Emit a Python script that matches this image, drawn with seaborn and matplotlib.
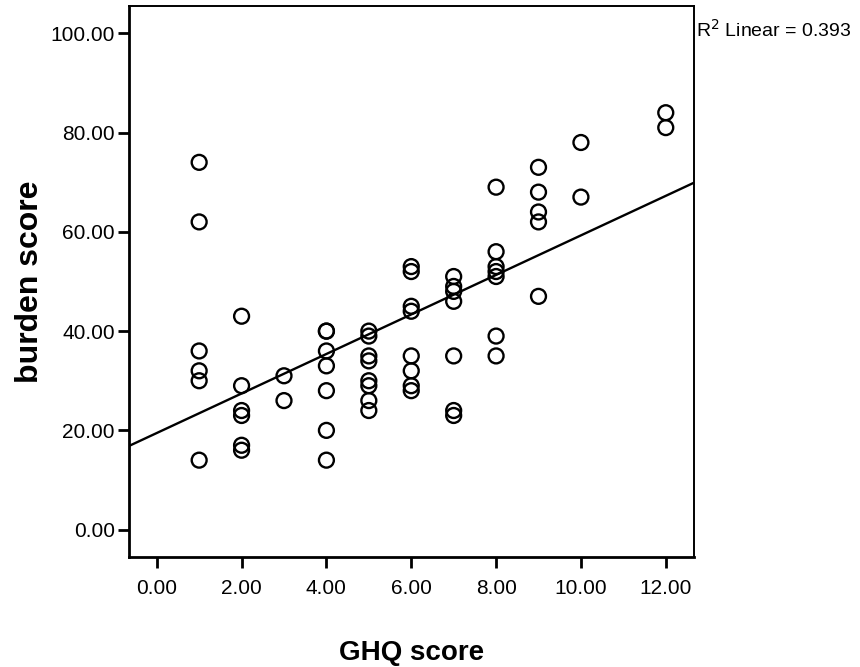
import numpy as np
import pandas as pd
import matplotlib
matplotlib.use("Agg")
import matplotlib.pyplot as plt
import seaborn as sns

# GHQ score (x) and burden score (y)
ghq = (
    [1] * 6 + [2] * 6 + [3] * 2 + [4] * 7 + [5] * 8 + [6] * 8
    + [7] * 7 + [8] * 7 + [9] * 5 + [10] * 2 + [12] * 2
)
burden = (
    [74, 62, 36, 32, 30, 14]
    + [43, 29, 24, 23, 17, 16]
    + [31, 26]
    + [40, 40, 36, 33, 28, 20, 14]
    + [40, 39, 35, 34, 30, 29, 26, 24]
    + [53, 52, 45, 44, 35, 32, 29, 28]
    + [51, 49, 48, 46, 35, 24, 23]
    + [69, 56, 53, 52, 51, 39, 35]
    + [73, 68, 64, 62, 47]
    + [78, 67]
    + [84, 81]
)
x_ticks = [0, 2, 4, 6, 8, 10, 12]
y_ticks = [0, 20, 40, 60, 80, 100]
r2_label = "0.393"

df = pd.DataFrame({"GHQ score": ghq, "burden score": burden})
r = np.corrcoef(df["GHQ score"], df["burden score"])[0, 1]
print(f"n={len(df)}  computed R2={r**2:.3f}")

sns.set_style("ticks")
plt.rcParams["font.family"] = ["Liberation Sans", "DejaVu Sans"]

fig = plt.figure(figsize=(8.6, 6.67), dpi=100)
ax = fig.add_axes([0.1497, 0.165, 0.657, 0.826])
ax.set_xlim(-0.66, 12.66)
ax.set_ylim(-5.5, 105.5)

sns.regplot(
    data=df, x="GHQ score", y="burden score", ax=ax, ci=None, truncate=False,
    scatter_kws=dict(s=115, facecolors="none", edgecolors="black",
                     linewidths=1.7, alpha=1),
    line_kws=dict(color="black", linewidth=1.7),
)

ax.set_xticks(x_ticks)
ax.set_xticklabels([f"{v:.2f}" for v in x_ticks])
ax.set_yticks(y_ticks)
ax.set_yticklabels([f"{v:.2f}" for v in y_ticks])
ax.tick_params(axis="both", direction="out", length=8, width=2, labelsize=15,
               color="black", labelcolor="black")
ax.tick_params(axis="x", pad=8)
ax.tick_params(axis="y", pad=2)

for side in ["left", "bottom"]:
    ax.spines[side].set_linewidth(2)
for side in ["top", "right"]:
    ax.spines[side].set_visible(True)
    ax.spines[side].set_linewidth(1.4)
for sp in ax.spines.values():
    sp.set_color("black")

ax.set_xlabel("GHQ score", fontsize=20, fontweight="bold", labelpad=30, color="black")
ax.set_ylabel("burden score", fontsize=23, fontweight="bold", labelpad=4, color="black")

fig.text(0.809, 0.955, "R$^2$ Linear = " + r2_label, fontsize=14,
         ha="left", va="center", color="black")

fig.savefig("out.png", dpi=100)
